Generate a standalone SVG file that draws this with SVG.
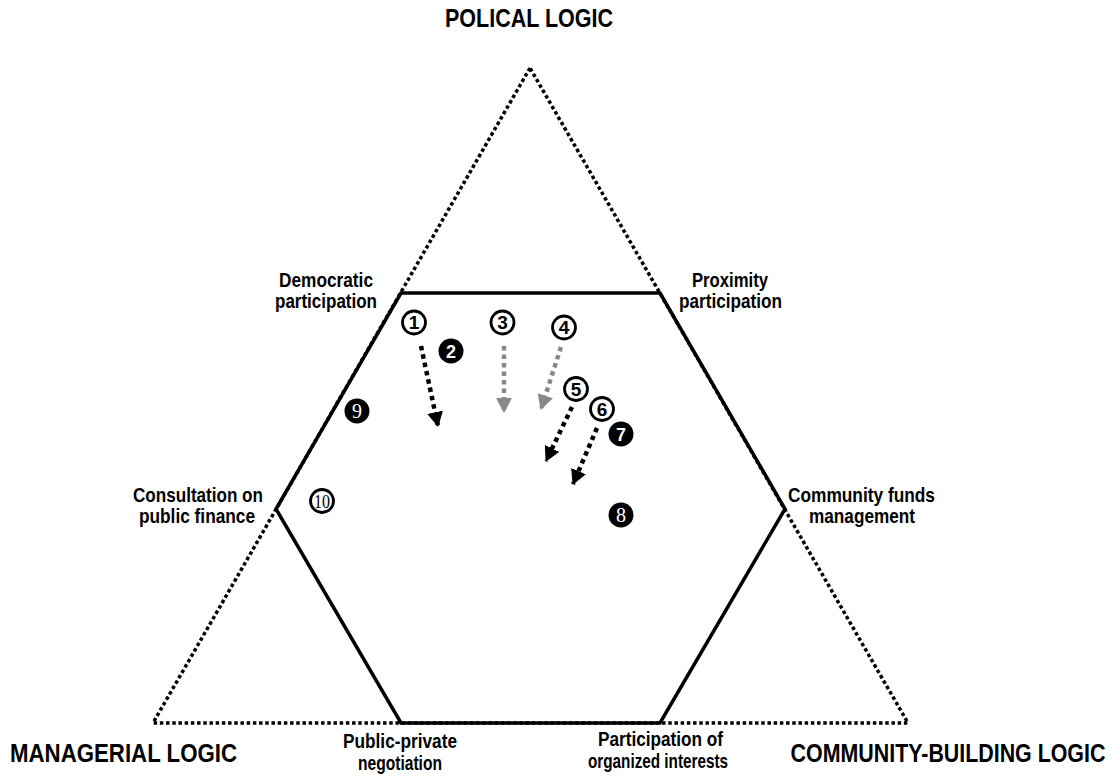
<svg xmlns="http://www.w3.org/2000/svg" width="1120" height="778" viewBox="0 0 1120 778">
<style>
.tri{fill:none;stroke:#000;stroke-width:3.5;stroke-dasharray:3.5 2.7}
.hex{fill:none;stroke:#000;stroke-width:3.5;stroke-linejoin:miter}
.lbl{font-family:"Liberation Sans",Arial,sans-serif;font-weight:bold;font-size:20.5px;fill:#000;text-anchor:middle}
.big{font-family:"Liberation Sans",Arial,sans-serif;font-weight:bold;font-size:25px;fill:#000;text-anchor:middle}
.ring{fill:#fff;stroke:#000;stroke-width:2.8}
.dot{fill:#000;stroke:none}
.num{font-family:"Liberation Sans",Arial,sans-serif;font-weight:bold;font-size:19px;text-anchor:middle;fill:#000}
.numw{font-family:"Liberation Serif","Times New Roman",serif;font-size:20px;text-anchor:middle;fill:#fff}
.arr{fill:none;stroke:#000;stroke-width:4.5;stroke-dasharray:4.5 4}
.arrg{fill:none;stroke:#888;stroke-width:4.5;stroke-dasharray:4.5 4}
</style>
<defs>
<marker id="hb" markerUnits="userSpaceOnUse" markerWidth="16" markerHeight="16" refX="14" refY="8" orient="auto" viewBox="0 0 16 16"><path d="M0,0 L15,8 L0,16 Z" fill="#000"/></marker>
<marker id="hg" markerUnits="userSpaceOnUse" markerWidth="16" markerHeight="16" refX="14" refY="8" orient="auto" viewBox="0 0 16 16"><path d="M0,0 L15,8 L0,16 Z" fill="#888"/></marker>
</defs>
<rect width="1120" height="778" fill="#fff"/>
<g id="frame">
<path class="tri" d="M530,68 L153,723 L908,723 Z"/>
<path class="hex" d="M401,293 L660,293 L785,509 L660,723 L401,723 L276,509 Z"/>
</g>
<g id="connectors">
<line class="arr" x1="421" y1="346" x2="438" y2="426" marker-end="url(#hb)"/>
<line class="arrg" x1="504" y1="346" x2="504" y2="412" marker-end="url(#hg)"/>
<line class="arrg" x1="561" y1="347" x2="541" y2="409" marker-end="url(#hg)"/>
<line class="arr" x1="572" y1="407" x2="546" y2="461" marker-end="url(#hb)"/>
<line class="arr" x1="597" y1="428" x2="573" y2="484" marker-end="url(#hb)"/>
</g>
<g id="labels">
<text class="big" x="529" y="27" textLength="168" lengthAdjust="spacingAndGlyphs">POLICAL LOGIC</text>
<text class="big" x="123.5" y="762" textLength="227" lengthAdjust="spacingAndGlyphs">MANAGERIAL LOGIC</text>
<text class="big" transform="translate(948,762) scale(0.856,1)" x="0" y="0">COMMUNITY-BUILDING LOGIC</text>
<text class="lbl" x="326" y="287" textLength="94" lengthAdjust="spacingAndGlyphs">Democratic</text>
<text class="lbl" x="326" y="308" textLength="102" lengthAdjust="spacingAndGlyphs">participation</text>
<text class="lbl" x="730" y="287" textLength="76" lengthAdjust="spacingAndGlyphs">Proximity</text>
<text class="lbl" x="730.5" y="308" textLength="103" lengthAdjust="spacingAndGlyphs">participation</text>
<text class="lbl" x="198" y="502" textLength="130" lengthAdjust="spacingAndGlyphs">Consultation on</text>
<text class="lbl" x="197" y="523" textLength="116" lengthAdjust="spacingAndGlyphs">public finance</text>
<text class="lbl" x="861.5" y="502" textLength="147" lengthAdjust="spacingAndGlyphs">Community funds</text>
<text class="lbl" x="862" y="523" textLength="106" lengthAdjust="spacingAndGlyphs">management</text>
<text class="lbl" x="400" y="748" textLength="114" lengthAdjust="spacingAndGlyphs">Public-private</text>
<text class="lbl" x="400" y="770" textLength="84" lengthAdjust="spacingAndGlyphs">negotiation</text>
<text class="lbl" x="660.5" y="746" textLength="125" lengthAdjust="spacingAndGlyphs">Participation of</text>
<text class="lbl" x="658" y="768" textLength="140" lengthAdjust="spacingAndGlyphs">organized interests</text>
</g>
<g id="n1"><circle class="ring" cx="414" cy="322.5" r="11.5"/><text class="num" x="414" y="329">1</text></g>
<g id="n2"><circle class="dot" cx="451" cy="351" r="12.5"/><text class="numw" x="451" y="357.5" style="font-family:'Liberation Sans',Arial,sans-serif;font-weight:bold;font-size:18px">2</text></g>
<g id="n3"><circle class="ring" cx="502.5" cy="322.5" r="11.5"/><text class="num" x="502.5" y="329">3</text></g>
<g id="n4"><circle class="ring" cx="564" cy="327.5" r="11.5"/><text class="num" x="564" y="334">4</text></g>
<g id="n5"><circle class="ring" cx="576" cy="389" r="11.5"/><text class="num" x="576" y="395.5">5</text></g>
<g id="n6"><circle class="ring" cx="602" cy="409" r="11.5"/><text class="num" x="602" y="415.5">6</text></g>
<g id="n7"><circle class="dot" cx="621" cy="434" r="12.5"/><text class="numw" x="621" y="440.5" style="font-family:'Liberation Sans',Arial,sans-serif;font-weight:bold;font-size:18px">7</text></g>
<g id="n8"><circle class="dot" cx="621" cy="515" r="12.5"/><text class="numw" x="621" y="522">8</text></g>
<g id="n9"><circle class="dot" cx="357" cy="411" r="12.5"/><text class="numw" x="357" y="418">9</text></g>
<g id="n10"><circle class="ring" cx="322" cy="501" r="11.5"/><text class="num" x="322" y="507.5" style="font-family:'Liberation Serif','Times New Roman',serif;font-weight:normal;font-size:19px" textLength="16" lengthAdjust="spacingAndGlyphs">10</text></g>
</svg>
